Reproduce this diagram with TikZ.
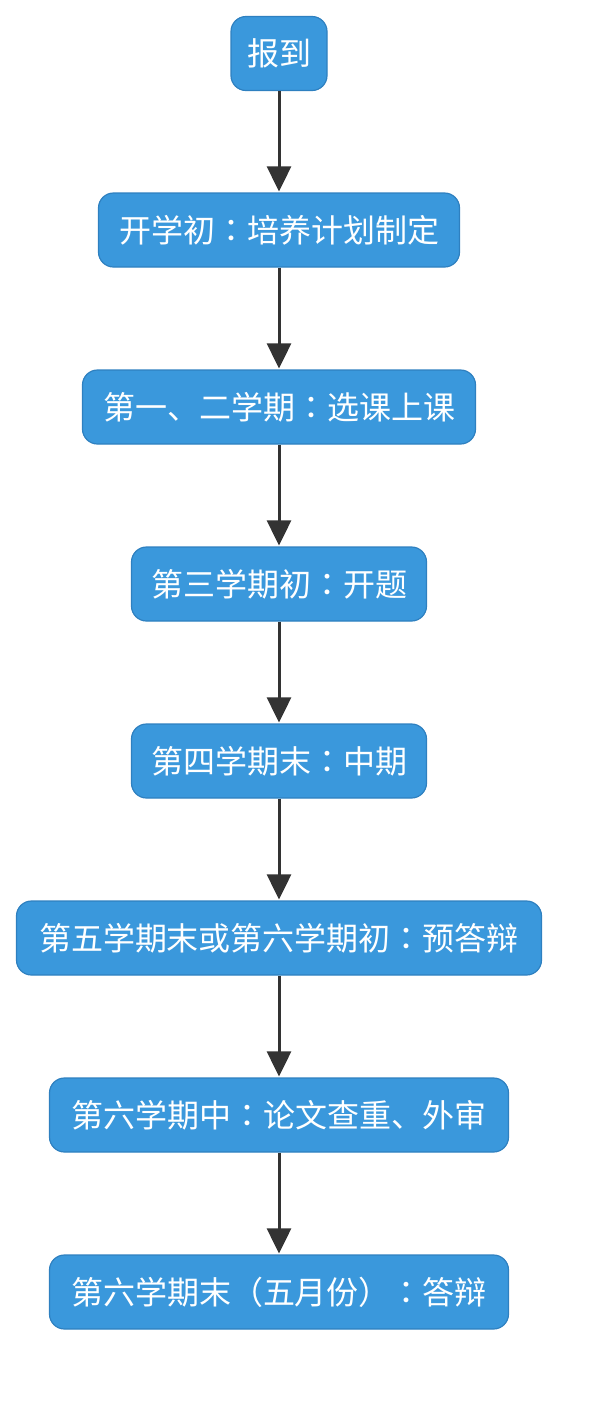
\documentclass[tikz,border=0pt]{standalone}
\usepackage{fontspec}
\setmainfont{Noto Sans CJK SC}
\newfontfamily\tcfont{Noto Sans CJK TC}
\newcommand{\cc}{{\tcfont ：}}
\usetikzlibrary{arrows.meta}
\definecolor{boxfill}{HTML}{3A98DC}
\definecolor{boxline}{HTML}{2E80C0}
\definecolor{arrowc}{HTML}{333333}
\tikzset{
  stepbox/.style={draw=boxline, line width=1.2pt, fill=boxfill, rounded corners=15pt,
    text=white, font=\fontsize{32pt}{36pt}\selectfont, minimum height=74pt,
    inner sep=0pt, anchor=center},
  flow/.style={draw=arrowc, line width=3pt, -{Triangle[width=24pt,length=25pt]}, shorten >=1pt}
}
\begin{document}
\begin{tikzpicture}[x=1pt,y=-1pt]
\useasboundingbox (0,0) rectangle (596,1428);
\node[stepbox, minimum width=96pt]  (n1) at (279,53.5) {报到};
\node[stepbox, minimum width=361pt] (n2) at (279,230) {开学初\cc 培养计划制定};
\node[stepbox, minimum width=393pt] (n3) at (279,407) {第一、二学期\cc 选课上课};
\node[stepbox, minimum width=295pt] (n4) at (279,584) {第三学期初\cc 开题};
\node[stepbox, minimum width=295pt] (n5) at (279,761) {第四学期末\cc 中期};
\node[stepbox, minimum width=525pt] (n6) at (279,938) {第五学期末或第六学期初\cc 预答辩};
\node[stepbox, minimum width=459pt] (n7) at (279,1115) {第六学期中\cc 论文查重、外审};
\node[stepbox, minimum width=459pt] (n8) at (279,1292) {第六学期末（五月份）\cc 答辩};
\draw[flow] (n1) -- (n2);
\draw[flow] (n2) -- (n3);
\draw[flow] (n3) -- (n4);
\draw[flow] (n4) -- (n5);
\draw[flow] (n5) -- (n6);
\draw[flow] (n6) -- (n7);
\draw[flow] (n7) -- (n8);
\end{tikzpicture}
\end{document}
